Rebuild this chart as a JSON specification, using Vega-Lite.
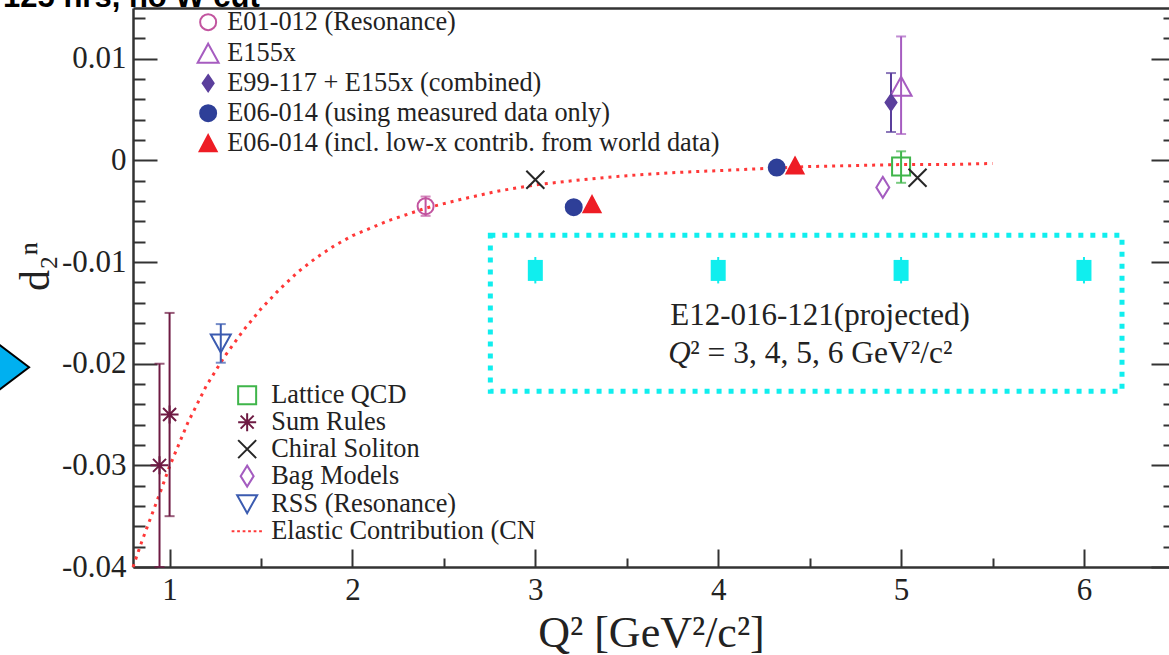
{
  "$schema": "https://vega.github.io/schema/vega-lite/v6.json",
  "width": 1036,
  "height": 559,
  "autosize": "none",
  "padding": {"left": 133, "top": 8, "right": 0, "bottom": 88},
  "background": "white",
  "config": {"view": {"stroke": null}, "font": "Liberation Serif"},
  "datasets": {
    "curve": [
      {"q": 0.8, "d": -0.0400}, {"q": 0.85, "d": -0.0374}, {"q": 0.9, "d": -0.0350}, {"q": 0.95, "d": -0.0326},
      {"q": 1.0, "d": -0.0301}, {"q": 1.1, "d": -0.0258}, {"q": 1.2, "d": -0.0222}, {"q": 1.3, "d": -0.0193},
      {"q": 1.4, "d": -0.0168}, {"q": 1.5, "d": -0.0146}, {"q": 1.6, "d": -0.0127}, {"q": 1.7, "d": -0.0110},
      {"q": 1.8, "d": -0.0096}, {"q": 1.9, "d": -0.0084}, {"q": 2.0, "d": -0.0074}, {"q": 2.2, "d": -0.0059},
      {"q": 2.4, "d": -0.0047}, {"q": 2.6, "d": -0.0038}, {"q": 2.8, "d": -0.0030}, {"q": 3.0, "d": -0.0024},
      {"q": 3.25, "d": -0.0019}, {"q": 3.5, "d": -0.0015}, {"q": 3.75, "d": -0.0012}, {"q": 4.0, "d": -0.0010},
      {"q": 4.25, "d": -0.0008}, {"q": 4.5, "d": -0.0006}, {"q": 4.75, "d": -0.0005}, {"q": 5.0, "d": -0.0004},
      {"q": 5.25, "d": -0.0004}, {"q": 5.5, "d": -0.0003}
    ],
    "exp": [
      {"q": 2.4, "d": -0.0045, "g": "E01-012 (Resonance)"},
      {"q": 5.0, "d": 0.0073, "g": "E155x"},
      {"q": 4.945, "d": 0.0057, "g": "E99-117 + E155x (combined)"},
      {"q": 3.21, "d": -0.0046, "g": "E06-014 (using measured data only)"},
      {"q": 4.32, "d": -0.0007, "g": "E06-014 (using measured data only)"},
      {"q": 3.31, "d": -0.0043, "g": "E06-014 (incl. low-x contrib. from world data)"},
      {"q": 4.42, "d": -0.0005, "g": "E06-014 (incl. low-x contrib. from world data)"}
    ],
    "model": [
      {"q": 5.0, "d": -0.0006, "m": "Lattice QCD"},
      {"q": 0.945, "d": -0.030, "m": "Sum Rules"},
      {"q": 1.0, "d": -0.025, "m": "Sum Rules"},
      {"q": 3.0, "d": -0.0019, "m": "Chiral Soliton"},
      {"q": 5.09, "d": -0.0017, "m": "Chiral Soliton"},
      {"q": 4.9, "d": -0.00265, "m": "Bag Models"},
      {"q": 1.28, "d": -0.0180, "m": "RSS (Resonance)"}
    ],
    "err": [
      {"q": 2.4, "lo": -0.00545, "hi": -0.00355, "s": "E01-012"},
      {"q": 5.0, "lo": 0.0026, "hi": 0.0122, "s": "E155x"},
      {"q": 4.945, "lo": 0.0028, "hi": 0.0086, "s": "E99-117 + E155x"},
      {"q": 5.0, "lo": -0.0022, "hi": 0.0009, "s": "Lattice QCD"},
      {"q": 0.945, "lo": -0.040, "hi": -0.020, "s": "Sum Rules"},
      {"q": 1.0, "lo": -0.035, "hi": -0.015, "s": "Sum Rules"},
      {"q": 1.28, "lo": -0.0199, "hi": -0.0161, "s": "RSS"}
    ],
    "proj": [
      {"q": 3, "d": -0.01082, "lo": -0.0121, "hi": -0.0095},
      {"q": 4, "d": -0.01082, "lo": -0.0121, "hi": -0.0095},
      {"q": 5, "d": -0.01082, "lo": -0.0121, "hi": -0.0095},
      {"q": 6, "d": -0.01082, "lo": -0.0121, "hi": -0.0095}
    ],
    "box": [{"q": 2.754, "q2": 6.208, "d": -0.00737, "d2": -0.02271}],
    "note1": [{"q": 4.557, "d": -0.01534, "t": "E12-016-121(projected)"}],
    "noteQ": [{"q": 3.727, "d": -0.0190, "t": "Q"}],
    "noteRest": [{"q": 3.847, "d": -0.0190, "t": "² = 3, 4, 5, 6 GeV²/c²"}],
    "slide": [{"q": 0.0896, "d": 0.0151, "t": "125 hrs, no W cut"}],
    "arrow": [{"q": 0.0732, "d": -0.02035}]
  },
  "layer": [
    {
      "mark": {"type": "rule", "color": "#333", "strokeWidth": 1.8, "strokeDash": [9, 6]},
      "encoding": {
        "y": {"datum": 0, "type": "quantitative", "scale": {"domain": [-0.04, 0.015], "nice": false, "zero": false}, "axis": null}
      }
    },
    {
      "data": {"name": "box"},
      "mark": {"type": "rect", "fill": "transparent", "stroke": "#10eeee", "strokeWidth": 5, "strokeDash": [5, 7]},
      "encoding": {
        "x": {"field": "q", "type": "quantitative", "scale": {"domain": [0.8, 6.465], "nice": false, "zero": false}, "axis": null},
        "x2": {"field": "q2"},
        "y": {"field": "d", "type": "quantitative", "scale": {"domain": [-0.04, 0.015], "nice": false, "zero": false}, "axis": null},
        "y2": {"field": "d2"}
      }
    },
    {
      "data": {"name": "curve"},
      "mark": {"type": "line", "color": "#ff3838", "strokeWidth": 3, "strokeDash": [3, 5]},
      "encoding": {
        "x": {"field": "q", "type": "quantitative", "scale": {"domain": [0.8, 6.465], "nice": false, "zero": false},
          "axis": {"orient": "bottom", "values": [1, 1.5, 2, 2.5, 3, 3.5, 4, 4.5, 5, 5.5, 6],
            "labelExpr": "datum.value === round(datum.value) ? format(datum.value, 'd') : ''",
            "tickSize": {"condition": {"test": "datum.value === round(datum.value)", "value": -18}, "value": -9},
            "tickColor": "#333", "tickWidth": 2, "domainColor": "#333", "domainWidth": 2.5,
            "labelFont": "Liberation Serif", "labelFontSize": 31, "labelColor": "#222", "labelPadding": 26,
            "labelFlush": false, "labelOverlap": false, "grid": false,
            "title": "Q² [GeV²/c²]", "titleFont": "Liberation Serif", "titleFontSize": 44, "titleFontWeight": "normal",
            "titleColor": "#222", "titleBaseline": "alphabetic", "titleY": 79}},
        "y": {"field": "d", "type": "quantitative", "scale": {"domain": [-0.04, 0.015], "nice": false, "zero": false},
          "axis": {"orient": "left",
            "values": [-0.04, -0.038, -0.036, -0.034, -0.032, -0.03, -0.028, -0.026, -0.024, -0.022, -0.02, -0.018, -0.016, -0.014, -0.012, -0.01, -0.008, -0.006, -0.004, -0.002, 0, 0.002, 0.004, 0.006, 0.008, 0.01, 0.012, 0.014],
            "labelExpr": "abs(datum.value*100 - round(datum.value*100)) < 1e-6 ? (abs(datum.value) < 1e-9 ? '0' : (datum.value < 0 ? '-' : '') + format(abs(datum.value), '.2f')) : ''",
            "tickSize": {"condition": {"test": "abs(datum.value*100 - round(datum.value*100)) < 1e-6", "value": -24}, "value": -12},
            "tickColor": "#333", "tickWidth": 2, "domainColor": "#333", "domainWidth": 2.5,
            "labelFont": "Liberation Serif", "labelFontSize": 31, "labelColor": "#222", "labelPadding": 31,
            "labelFlush": false, "labelOverlap": false, "grid": false,
            "title": "d₂ⁿ", "titleFont": "Liberation Serif", "titleFontSize": 42, "titleFontWeight": "normal",
            "titleColor": "#222", "titleX": -98, "titleY": 258, "titleAngle": -90, "titleAlign": "center", "titleBaseline": "middle"}}
      }
    },
    {
      "data": {"name": "err"},
      "mark": {"type": "errorbar", "ticks": {"size": 10, "thickness": 2}, "thickness": 2},
      "encoding": {
        "x": {"field": "q", "type": "quantitative", "scale": {"domain": [0.8, 6.465], "nice": false, "zero": false}, "axis": null},
        "y": {"field": "lo", "type": "quantitative", "scale": {"domain": [-0.04, 0.015], "nice": false, "zero": false}, "axis": null},
        "y2": {"field": "hi"},
        "color": {"field": "s", "type": "nominal", "legend": null,
          "scale": {"domain": ["E01-012", "E155x", "E99-117 + E155x", "Lattice QCD", "Sum Rules", "RSS"],
            "range": ["#c2549f", "#a65cc0", "#5b3f9c", "#3fb54a", "#6e1a43", "#3b5bb0"]}}
      }
    },
    {
      "data": {"name": "proj"},
      "mark": {"type": "rule", "color": "#10eeee", "strokeWidth": 2},
      "encoding": {
        "x": {"field": "q", "type": "quantitative", "scale": {"domain": [0.8, 6.465], "nice": false, "zero": false}, "axis": null},
        "y": {"field": "lo", "type": "quantitative", "scale": {"domain": [-0.04, 0.015], "nice": false, "zero": false}, "axis": null},
        "y2": {"field": "hi"}
      }
    },
    {
      "data": {"name": "proj"},
      "mark": {"type": "point", "shape": "M-1.5,-2.1H1.5V2.1H-1.5Z", "size": 100, "filled": true, "color": "#10eeee", "opacity": 1},
      "encoding": {
        "x": {"field": "q", "type": "quantitative", "scale": {"domain": [0.8, 6.465], "nice": false, "zero": false},
          "axis": {"orient": "top", "domain": true, "domainColor": "#333", "domainWidth": 2.5, "ticks": false, "labels": false, "title": null, "grid": false}},
        "y": {"field": "d", "type": "quantitative", "scale": {"domain": [-0.04, 0.015], "nice": false, "zero": false},
          "axis": {"orient": "right", "domain": false, "labels": false, "title": null, "grid": false,
            "values": [-0.04, -0.038, -0.036, -0.034, -0.032, -0.03, -0.028, -0.026, -0.024, -0.022, -0.02, -0.018, -0.016, -0.014, -0.012, -0.01, -0.008, -0.006, -0.004, -0.002, 0, 0.002, 0.004, 0.006, 0.008, 0.01, 0.012, 0.014],
            "tickSize": {"condition": {"test": "abs(datum.value*100 - round(datum.value*100)) < 1e-6", "value": -18}, "value": -6},
            "tickColor": "#333", "tickWidth": 2}}
      }
    },
    {
      "data": {"name": "exp"},
      "mark": {"type": "point", "size": 100, "strokeWidth": 2, "opacity": 1},
      "encoding": {
        "x": {"field": "q", "type": "quantitative", "scale": {"domain": [0.8, 6.465], "nice": false, "zero": false}, "axis": null},
        "y": {"field": "d", "type": "quantitative", "scale": {"domain": [-0.04, 0.015], "nice": false, "zero": false}, "axis": null},
        "shape": {"field": "g", "type": "nominal",
          "scale": {"domain": ["E01-012 (Resonance)", "E155x", "E99-117 + E155x (combined)", "E06-014 (using measured data only)", "E06-014 (incl. low-x contrib. from world data)"],
            "range": ["M-1.6,0A1.6,1.6 0 1,0 1.6,0A1.6,1.6 0 1,0 -1.6,0Z", "M0,-1.9L2.1,1.9L-2.1,1.9Z", "M0,-1.6L1.1,0L0,1.6L-1.1,0Z", "M-1.6,0A1.6,1.6 0 1,0 1.6,0A1.6,1.6 0 1,0 -1.6,0Z", "M0,-1.6L1.7,1.6L-1.7,1.6Z"]},
          "legend": {"orient": "none", "legendX": 62, "legendY": 1, "title": null, "padding": 0,
            "labelFont": "Liberation Serif", "labelFontSize": 26.3, "labelColor": "#222", "labelOffset": 6, "labelLimit": 700,
            "rowPadding": 3, "symbolStrokeWidth": 2, "symbolSize": 100, "symbolOpacity": 1}},
        "fill": {"field": "g", "type": "nominal",
          "scale": {"domain": ["E01-012 (Resonance)", "E155x", "E99-117 + E155x (combined)", "E06-014 (using measured data only)", "E06-014 (incl. low-x contrib. from world data)"],
            "range": ["transparent", "transparent", "#5b3f9c", "#2e3f98", "#ee1d25"]}},
        "stroke": {"field": "g", "type": "nominal",
          "scale": {"domain": ["E01-012 (Resonance)", "E155x", "E99-117 + E155x (combined)", "E06-014 (using measured data only)", "E06-014 (incl. low-x contrib. from world data)"],
            "range": ["#c2549f", "#a65cc0", "#5b3f9c", "#2e3f98", "#ee1d25"]}}
      }
    },
    {
      "data": {"name": "model"},
      "mark": {"type": "point", "size": 100, "strokeWidth": 2, "opacity": 1},
      "encoding": {
        "x": {"field": "q", "type": "quantitative", "scale": {"domain": [0.8, 6.465], "nice": false, "zero": false}, "axis": null},
        "y": {"field": "d", "type": "quantitative", "scale": {"domain": [-0.04, 0.015], "nice": false, "zero": false}, "axis": null},
        "shape": {"field": "m", "type": "nominal",
          "scale": {"domain": ["Lattice QCD", "Sum Rules", "Chiral Soliton", "Bag Models", "RSS (Resonance)", "Elastic Contribution (CN"],
            "range": ["M-1.8,-1.8H1.8V1.8H-1.8Z", "M0,-1.8V1.8M-1.8,0H1.8M-1.3,-1.3L1.3,1.3M-1.3,1.3L1.3,-1.3", "M-1.8,-1.8L1.8,1.8M-1.8,1.8L1.8,-1.8", "M0,-2.1L1.3,0L0,2.1L-1.3,0Z", "M-2,-1.8L2,-1.8L0,1.8Z", "M-3.1,0H-2.55M-2,0H-1.45M-0.9,0H-0.35M0.2,0H0.75M1.3,0H1.85M2.4,0H2.95"]},
          "legend": {"orient": "none", "legendX": 101, "legendY": 374, "title": null, "padding": 0,
            "labelFont": "Liberation Serif", "labelFontSize": 26.3, "labelColor": "#222", "labelOffset": 11, "labelLimit": 700,
            "rowPadding": -2, "symbolStrokeWidth": 2, "symbolSize": 100, "symbolOpacity": 1}},
        "fill": {"field": "m", "type": "nominal",
          "scale": {"domain": ["Lattice QCD", "Sum Rules", "Chiral Soliton", "Bag Models", "RSS (Resonance)", "Elastic Contribution (CN"],
            "range": ["transparent", "transparent", "transparent", "transparent", "transparent", "transparent"]}},
        "stroke": {"field": "m", "type": "nominal",
          "scale": {"domain": ["Lattice QCD", "Sum Rules", "Chiral Soliton", "Bag Models", "RSS (Resonance)", "Elastic Contribution (CN"],
            "range": ["#3fb54a", "#6e1a43", "#262626", "#a45cc0", "#3b5bb0", "#ff3838"]}}
      }
    },
    {
      "data": {"name": "note1"},
      "mark": {"type": "text", "font": "Liberation Serif", "fontSize": 31, "color": "#222", "align": "center", "baseline": "middle"},
      "encoding": {
        "x": {"field": "q", "type": "quantitative", "scale": {"domain": [0.8, 6.465], "nice": false, "zero": false}, "axis": null},
        "y": {"field": "d", "type": "quantitative", "scale": {"domain": [-0.04, 0.015], "nice": false, "zero": false}, "axis": null},
        "text": {"field": "t"}
      }
    },
    {
      "data": {"name": "noteQ"},
      "mark": {"type": "text", "font": "Liberation Serif", "fontSize": 31, "fontStyle": "italic", "color": "#222", "align": "left", "baseline": "middle"},
      "encoding": {
        "x": {"field": "q", "type": "quantitative", "scale": {"domain": [0.8, 6.465], "nice": false, "zero": false}, "axis": null},
        "y": {"field": "d", "type": "quantitative", "scale": {"domain": [-0.04, 0.015], "nice": false, "zero": false}, "axis": null},
        "text": {"field": "t"}
      }
    },
    {
      "data": {"name": "noteRest"},
      "mark": {"type": "text", "font": "Liberation Serif", "fontSize": 31.5, "color": "#222", "align": "left", "baseline": "middle"},
      "encoding": {
        "x": {"field": "q", "type": "quantitative", "scale": {"domain": [0.8, 6.465], "nice": false, "zero": false}, "axis": null},
        "y": {"field": "d", "type": "quantitative", "scale": {"domain": [-0.04, 0.015], "nice": false, "zero": false}, "axis": null},
        "text": {"field": "t"}
      }
    },
    {
      "data": {"name": "slide"},
      "mark": {"type": "text", "font": "Liberation Sans", "fontWeight": "bold", "fontSize": 31, "color": "#000", "align": "left", "baseline": "alphabetic", "clip": false},
      "encoding": {
        "x": {"field": "q", "type": "quantitative", "scale": {"domain": [0.8, 6.465], "nice": false, "zero": false}, "axis": null},
        "y": {"field": "d", "type": "quantitative", "scale": {"domain": [-0.04, 0.015], "nice": false, "zero": false}, "axis": null},
        "text": {"field": "t"}
      }
    },
    {
      "data": {"name": "arrow"},
      "mark": {"type": "point", "shape": "M5.8,0L-4,-7.4L-4,7.4Z", "size": 100, "fill": "#00b0f0", "stroke": "#000", "strokeWidth": 2, "opacity": 1, "clip": false},
      "encoding": {
        "x": {"field": "q", "type": "quantitative", "scale": {"domain": [0.8, 6.465], "nice": false, "zero": false}, "axis": null},
        "y": {"field": "d", "type": "quantitative", "scale": {"domain": [-0.04, 0.015], "nice": false, "zero": false}, "axis": null}
      }
    }
  ],
  "resolve": {
    "scale": {"shape": "independent", "fill": "independent", "stroke": "independent"},
    "axis": {"x": "independent", "y": "independent"}
  }
}
